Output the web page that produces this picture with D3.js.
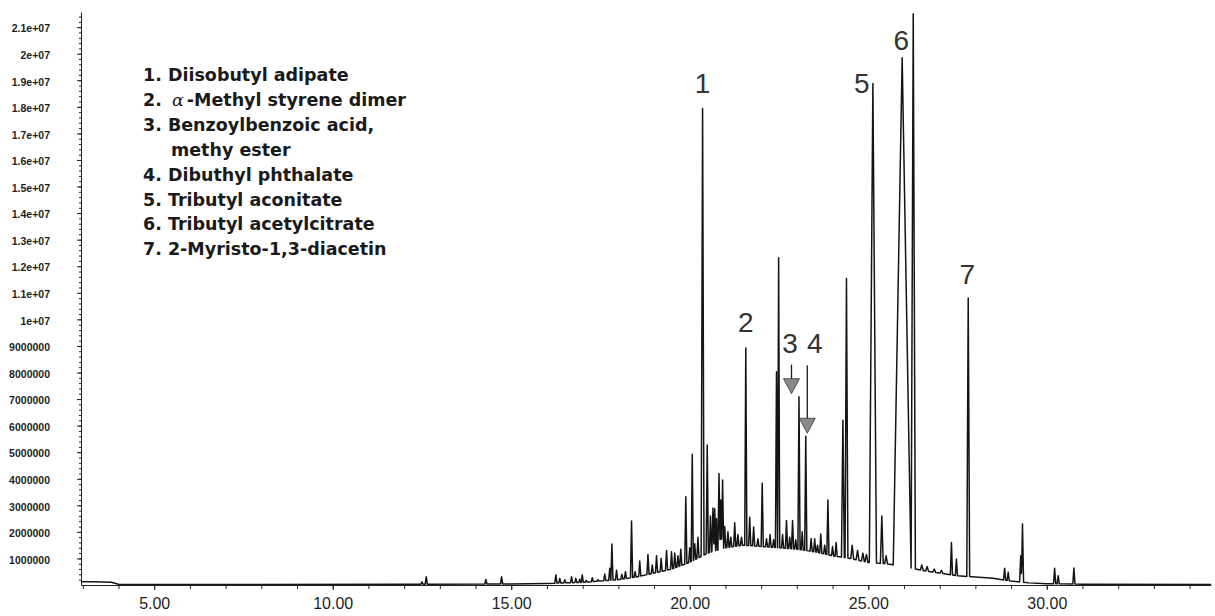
<!DOCTYPE html>
<html>
<head>
<meta charset="utf-8">
<script src="https://cdn.jsdelivr.net/npm/d3@7"></script>
<style>
  body { margin: 0; background: #fff; }
  svg { display: block; }
</style>
</head>
<body>
<svg id="chart" width="1215" height="616"></svg>
<script>
'use strict';

// retention time window (min) and top of the abundance axis (counts)
const timeRange = [2.95, 34.6];
const countMax = 21.57e6;

// unresolved hump under the peaks (millions of counts)
const baseTimes  = [2.95, 3.3, 3.8, 4.0, 8.0, 12.0, 15.0, 16.0, 17.0, 17.5, 18.0, 18.5, 19.0, 19.5,
  20.0, 20.5, 21.0, 21.5, 22.0, 22.5, 23.0, 23.5, 24.0, 24.5, 25.0, 25.5, 26.0, 26.5, 27.0, 27.5,
  28.0, 28.5, 29.0, 29.5, 30.0, 31.0, 34.6];
const baseLevels = [0.12, 0.12, 0.10, 0.03, 0.02, 0.03, 0.04, 0.06, 0.10, 0.15, 0.20, 0.30, 0.45, 0.60,
  0.85, 1.20, 1.40, 1.50, 1.45, 1.40, 1.35, 1.25, 1.10, 1.00, 0.85, 0.80, 0.70, 0.55, 0.45, 0.35,
  0.30, 0.25, 0.15, 0.08, 0.05, 0.03, 0.02];

// peaks: retention time (min), apex abundance (millions of counts), half width at base (min)
const peakTimes = [12.50, 12.62, 14.29, 14.73, 16.25, 16.36, 16.50, 16.69, 16.81, 16.92, 16.99, 17.10,
  17.27, 17.43, 17.62, 17.76, 17.82, 17.95, 18.10, 18.20, 18.37, 18.47, 18.60, 18.83, 18.95, 19.07,
  19.20, 19.35, 19.49, 19.58, 19.67, 19.75, 19.89, 20.00, 20.07, 20.14, 20.23, 20.36, 20.49, 20.58,
  20.65, 20.70, 20.75, 20.82, 20.87, 20.92, 20.98, 21.07, 21.15, 21.26, 21.35, 21.45, 21.57, 21.68,
  21.79, 21.91, 22.03, 22.15, 22.25, 22.35, 22.43, 22.49, 22.60, 22.71, 22.80, 22.88, 22.97, 23.06,
  23.15, 23.25, 23.40, 23.50, 23.58, 23.67, 23.78, 23.87, 24.00, 24.10, 24.29, 24.39, 24.55, 24.70,
  24.85, 24.95, 25.13, 25.38, 25.50, 25.95, 26.26, 26.50, 26.65, 26.85, 27.05, 27.33, 27.47, 27.80,
  28.82, 28.92, 29.27, 29.32, 30.22, 30.32, 30.76];
const peakHeights = [0.12, 0.31, 0.21, 0.31, 0.38, 0.25, 0.20, 0.31, 0.25, 0.22, 0.38, 0.17,
  0.27, 0.20, 0.41, 0.63, 1.54, 0.56, 0.40, 0.50, 2.41, 0.50, 0.90, 1.15, 0.75, 1.10,
  1.00, 1.30, 1.25, 1.20, 1.10, 1.35, 3.32, 1.40, 4.92, 1.55, 1.80, 17.94, 5.27, 2.60,
  2.90, 2.87, 2.50, 4.20, 3.20, 3.95, 2.20, 2.00, 1.80, 2.34, 1.90, 1.80, 8.92, 2.55,
  2.18, 1.74, 3.83, 1.74, 1.90, 1.70, 8.03, 12.32, 1.90, 2.43, 1.80, 2.43, 1.70, 7.09,
  2.00, 5.60, 1.75, 1.74, 1.50, 1.92, 1.50, 3.20, 1.45, 1.60, 6.20, 11.54, 1.50, 1.30,
  1.20, 1.15, 18.88, 2.60, 1.10, 19.85, 21.50, 0.75, 0.70, 0.60, 0.55, 1.60, 0.98, 10.80,
  0.63, 0.48, 1.10, 2.30, 0.63, 0.35, 0.64];
const peakWidths = [0.03, 0.03, 0.03, 0.03, 0.03, 0.03, 0.03, 0.03, 0.03, 0.03, 0.03, 0.03,
  0.03, 0.03, 0.03, 0.03, 0.03, 0.03, 0.03, 0.03, 0.03, 0.03, 0.03, 0.03, 0.03, 0.03,
  0.03, 0.03, 0.03, 0.03, 0.03, 0.03, 0.03, 0.03, 0.03, 0.03, 0.03, 0.04, 0.03, 0.03,
  0.03, 0.025, 0.025, 0.03, 0.025, 0.03, 0.03, 0.03, 0.03, 0.03, 0.03, 0.03, 0.03, 0.03,
  0.03, 0.03, 0.03, 0.03, 0.03, 0.03, 0.03, 0.03, 0.03, 0.03, 0.03, 0.03, 0.03, 0.03,
  0.03, 0.03, 0.03, 0.03, 0.03, 0.03, 0.03, 0.03, 0.03, 0.03, 0.04, 0.04, 0.04, 0.04,
  0.04, 0.04, 0.10, 0.04, 0.04, 0.25, 0.06, 0.04, 0.04, 0.04, 0.04, 0.03, 0.03, 0.04,
  0.03, 0.03, 0.03, 0.03, 0.03, 0.03, 0.03];

// identified compounds and the peak each one belongs to
const compoundNames = ['Diisobutyl adipate', '\u03b1-Methyl styrene dimer',
  'Benzoylbenzoic acid, methy ester', 'Dibuthyl phthalate', 'Tributyl aconitate',
  'Tributyl acetylcitrate', '2-Myristo-1,3-diacetin'];
const compoundTimes = [20.36, 21.57, 23.06, 23.25, 25.13, 25.95, 27.80];

// axis ticks
const xTickValues = [5, 10, 15, 20, 25, 30];
const xTickLabels = ['5.00', '10.00', '15.00', '20.00', '25.00', '30.00'];
const yTickValues = d3.range(1, 22).map(d => d * 1e6);
const yTickLabels = ['1000000', '2000000', '3000000', '4000000', '5000000', '6000000', '7000000',
  '8000000', '9000000', '1e+07', '1.1e+07', '1.2e+07', '1.3e+07', '1.4e+07', '1.5e+07', '1.6e+07',
  '1.7e+07', '1.8e+07', '1.9e+07', '2e+07', '2.1e+07'];

const svg = d3.select('#chart');
const m = { left: 81, right: 1211, top: 12, bottom: 585 };

const x = d3.scaleLinear().domain(timeRange).range([m.left, m.right]);
const y = d3.scaleLinear().domain([0, countMax]).range([m.bottom, m.top]);

// baseline level at any time (piecewise linear through the read points)
const baseAt = d3.scaleLinear().domain(baseTimes).range(baseLevels).clamp(true);

const peaks = peakTimes.map((t, i) => ({
  t: t, w: peakWidths[i], amp: Math.max(0, peakHeights[i] - baseAt(t))
}));

// the trace is piecewise linear, so evaluate it at every break point
let knots = baseTimes.slice();
peaks.forEach(p => { knots.push(p.t - p.w, p.t, p.t + p.w); });
knots = Array.from(new Set(knots.map(k => +k.toFixed(4)))).sort((a, b) => a - b);

const trace = knots.map(k => {
  let v = baseAt(k);
  peaks.forEach(p => {
    const d = Math.abs(k - p.t);
    if (d < p.w) v += p.amp * (1 - d / p.w);
  });
  return [k, v * 1e6];
});

svg.append('clipPath').attr('id', 'plot')
  .append('rect').attr('x', m.left).attr('y', 0).attr('width', m.right - m.left + 4).attr('height', m.bottom);

// x axis: minor ticks every minute, labelled ticks every 5
const xMinor = svg.append('g').attr('transform', 'translate(0,' + m.bottom + ')')
  .call(d3.axisBottom(x).tickValues(d3.range(3, 35)).tickSize(4).tickFormat(''));
xMinor.select('.domain').remove();

const xAxis = svg.append('g').attr('transform', 'translate(0,' + m.bottom + ')')
  .call(d3.axisBottom(x).tickValues(xTickValues)
    .tickFormat((d, i) => xTickLabels[i]).tickSize(5).tickSizeOuter(0).tickPadding(8));
xAxis.selectAll('text')
  .attr('font-family', '"Liberation Sans", Arial, sans-serif')
  .attr('font-size', 16).attr('fill', '#1e1e1e');

// y axis
const yMinor = svg.append('g').attr('transform', 'translate(' + m.left + ',0)')
  .call(d3.axisLeft(y).tickValues(d3.range(2e5, countMax, 2e5)).tickSize(2).tickFormat(''));
yMinor.select('.domain').remove();

const yAxis = svg.append('g').attr('transform', 'translate(' + m.left + ',0)')
  .call(d3.axisLeft(y).tickValues(yTickValues)
    .tickFormat((d, i) => yTickLabels[i]).tickSize(4).tickSizeOuter(0).tickPadding(27));
yAxis.selectAll('text')
  .attr('font-family', '"Liberation Sans", Arial, sans-serif')
  .attr('font-weight', 'bold').attr('font-size', 10.5)
  .attr('dy', '0.45em').attr('fill', '#1e1e1e');

svg.selectAll('.domain, .tick line').attr('stroke', '#222');

// chromatogram
svg.append('path')
  .datum(trace)
  .attr('clip-path', 'url(#plot)')
  .attr('fill', 'none')
  .attr('stroke', '#141414')
  .attr('stroke-width', 1.5)
  .attr('stroke-linejoin', 'round')
  .attr('d', d3.line().x(d => x(d[0])).y(d => y(d[1])));

// peak numbers, placed relative to each compound's apex
const labelOffsets = [[0, -15], [0, -16], [-9, -44], [9, -83], [-11, 10], [-1, -8], [-1, -14]];
const apex = compoundTimes.map(t => peakHeights[peakTimes.indexOf(t)] * 1e6);

svg.append('g').selectAll('text')
  .data(compoundTimes)
  .join('text')
  .attr('x', (t, i) => x(t) + labelOffsets[i][0])
  .attr('y', (t, i) => y(apex[i]) + labelOffsets[i][1])
  .attr('text-anchor', 'middle')
  .attr('font-family', '"Liberation Sans", Arial, sans-serif')
  .attr('font-size', 28)
  .attr('fill', '#333')
  .text((t, i) => i + 1);

// arrows for compounds 3 and 4
const arrows = [{ c: 2, dx: -7.5 }, { c: 3, dx: 1.5 }];
const arrowG = svg.append('g');
arrows.forEach(a => {
  const ax = x(compoundTimes[a.c]) + a.dx;
  const y0 = y(apex[a.c]) + labelOffsets[a.c][1] + 12;
  const tip = y(apex[a.c]) - 3;
  arrowG.append('line')
    .attr('x1', ax).attr('x2', ax).attr('y1', y0).attr('y2', tip - 10)
    .attr('stroke', '#1a1a1a').attr('stroke-width', 1.3);
  arrowG.append('path')
    .attr('d', 'M' + (ax - 8) + ',' + (tip - 15) + 'L' + (ax + 8) + ',' + (tip - 15) + 'L' + ax + ',' + tip + 'Z')
    .attr('fill', '#8a8a8a').attr('stroke', '#333').attr('stroke-width', 0.8);
});

// legend
const legend = svg.append('g')
  .attr('font-family', '"DejaVu Sans", Verdana, sans-serif')
  .attr('font-weight', 'bold')
  .attr('font-size', 17.5)
  .attr('fill', '#1a1a1a');
const rowGap = 24.9;
let row = 0;
compoundNames.forEach((name, i) => {
  const txt = legend.append('text').attr('x', 143).attr('y', 81 + row * rowGap);
  if (name.indexOf(', ') > 0) {
    const parts = name.split(', ');
    txt.text((i + 1) + '. ' + parts[0] + ',');
    row++;
    legend.append('text').attr('x', 171).attr('y', 81 + row * rowGap).text(parts[1]);
  } else if (name.charAt(0) === '\u03b1') {
    txt.append('tspan').text((i + 1) + '. ');
    txt.append('tspan').attr('dx', 4).attr('font-style', 'italic').attr('font-weight', 'normal')
      .attr('font-family', '"DejaVu Serif", serif').text('\u03b1');
    txt.append('tspan').attr('dx', 3).text(name.slice(1));
  } else {
    txt.text((i + 1) + '. ' + name);
  }
  row++;
});
</script>
</body>
</html>
